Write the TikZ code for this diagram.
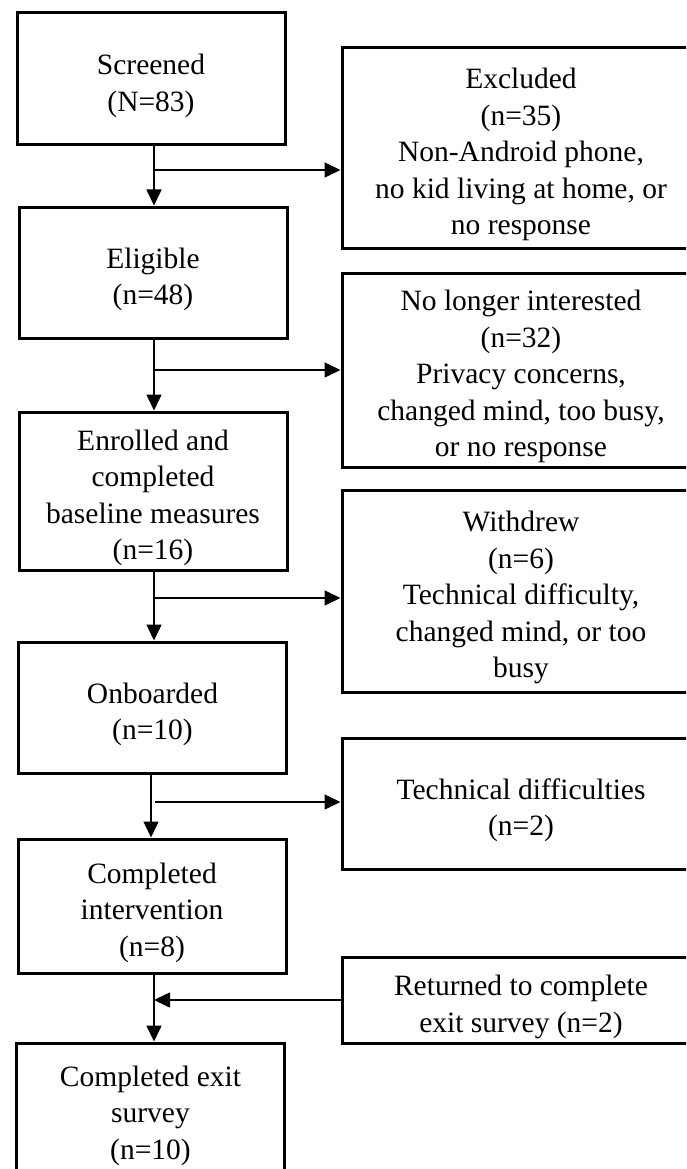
\documentclass[tikz,border=0pt]{standalone}
\usepackage{fontspec}
\setmainfont{Liberation Serif}
\usetikzlibrary{arrows.meta}
\newcommand{\topgap}{\rule{0pt}{34pt}}
\begin{document}
\begin{tikzpicture}[x=1pt,y=-1pt,
  box/.style={draw, line width=3pt, align=center, font=\fontsize{29.5}{36.5}\selectfont, inner sep=0pt},
  lbox/.style={box, minimum width=268},
  rbox/.style={box, minimum width=358},
  arr/.style={line width=1.6pt, -{Triangle[length=16pt,width=15pt]}}]
\useasboundingbox (0,0) rectangle (686,1169);
\clip (0,0) rectangle (686,1169);
% left column
\node[lbox, minimum height=132] (scr) at (151,79) {\topgap Screened\\(N=83)};
\node[lbox, minimum height=131] (eli) at (153,272.5) {\topgap Eligible\\(n=48)};
\node[lbox, minimum height=158] (enr) at (153,491) {\topgap Enrolled and\\completed\\baseline measures\\(n=16)};
\node[lbox, minimum height=131] (onb) at (152.5,707.5) {\topgap Onboarded\\(n=10)};
\node[lbox, minimum height=134] (cmp) at (152,906) {\topgap Completed\\intervention\\(n=8)};
\node[lbox, minimum height=132] (ext) at (150.5,1109) {\topgap Completed exit\\survey\\(n=10)};
% right column
\node[rbox, minimum height=200] (exc) at (521,148) {\topgap Excluded\\(n=35)\\Non-Android phone,\\no kid living at home, or\\no response};
\node[rbox, minimum height=194] (nli) at (521,370) {\topgap No longer interested\\(n=32)\\Privacy concerns,\\changed mind, too busy,\\or no response};
\node[rbox, minimum height=202] (wdr) at (521,591) {\topgap Withdrew\\(n=6)\\Technical difficulty,\\changed mind, or too\\busy};
\node[rbox, minimum height=131] (tec) at (521,803.5) {\topgap Technical difficulties\\(n=2)};
\node[rbox, minimum height=86] (ret) at (521,1000) {\topgap Returned to complete\\exit survey (n=2)};
% bottom edge of the last box lies outside the page
\coordinate (j1) at (154,170);
\coordinate (j2) at (154,370);
\coordinate (j3) at (154,598);
\coordinate (j4) at (151,802);
\coordinate (j5) at (154,1000);
% connectors
\draw[arr] (scr.south -| j1) -- (eli.north -| j1);
\draw[arr] (j1) -- (j1 -| exc.west);
\draw[arr] (eli.south -| j2) -- (enr.north -| j2);
\draw[arr] (j2) -- (j2 -| nli.west);
\draw[arr] (enr.south -| j3) -- (onb.north -| j3);
\draw[arr] (j3) -- (j3 -| wdr.west);
\draw[arr] (onb.south -| j4) -- (cmp.north -| j4);
\draw[arr] ([xshift=4pt]j4) -- (j4 -| tec.west);
\draw[arr] (cmp.south -| j5) -- (ext.north -| j5);
\draw[arr] (ret.west) -- (ret.west -| j5);
\end{tikzpicture}
\end{document}
